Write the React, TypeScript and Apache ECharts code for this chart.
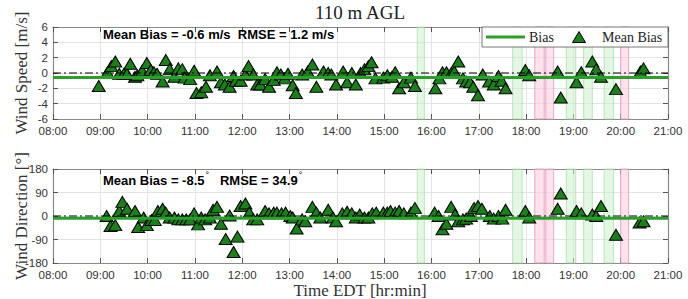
import React, { useEffect, useRef } from "react";
import * as echarts from "echarts";

const hourTicks = ["08:00", "09:00", "10:00", "11:00", "12:00", "13:00", "14:00", "15:00", "16:00", "17:00", "18:00", "19:00", "20:00", "21:00"];

const speedTimes = [
  "08:58", "09:09", "09:14", "09:19", "09:24", "09:30", "09:34", "09:38", "09:44", "09:47",
  "09:53", "09:59", "10:04", "10:08", "10:12", "10:19", "10:23", "10:28", "10:34", "10:39",
  "10:44", "10:47", "10:54", "10:59", "11:02", "11:08", "11:14", "11:19", "11:28", "11:33",
  "11:38", "11:44", "11:49", "11:52", "11:58", "12:04", "12:08", "12:14", "12:19", "12:23",
  "12:29", "12:34", "12:40", "12:44", "12:49", "12:54", "12:58", "13:04", "13:08", "13:16",
  "13:23", "13:29", "13:34", "13:43", "13:49", "13:53", "13:59", "14:08", "14:13", "14:19",
  "14:24", "14:30", "14:35", "14:40", "14:44", "14:49", "14:59", "15:04", "15:10", "15:14",
  "15:19", "15:25", "15:34", "15:39", "16:05", "16:10", "16:14", "16:19", "16:25", "16:29",
  "16:34", "16:40", "16:44", "16:49", "16:53", "16:59", "17:05", "17:13", "17:19", "17:25",
  "17:29", "17:34", "17:59", "18:04", "18:40", "18:44", "19:04", "19:10", "19:24", "19:29",
  "19:35", "19:54", "20:25", "20:29"
];
const speedBias = [
  -1.7, 0.1, 0.9, 1.5, -0.1, -0.1, -0.1, 1.2, -0.5, -0.3,
  0.3, 1.3, 0.4, 0.1, -0.1, -1.1, 1.7, 0.5, -0.5, 0.6,
  0.5, -0.6, -0.8, 0.3, -2.6, -2.5, -1.8, -0.3, 0.2, -1.2,
  -1.5, -1.8, -0.4, -1.0, -1.0, -0.2, 0.9, -0.2, -1.5, -1.5,
  -0.8, -1.8, -0.9, 0.1, -0.2, -0.7, -0.1, -1.6, -2.6, -0.2,
  0.2, 1.1, -1.8, 0.2, 0.0, -0.2, -1.5, 0.2, -1.2, 0.0,
  -1.5, 0.0, 0.5, 0.9, 1.4, -0.7, -0.6, -0.3, -0.5, 0.1,
  -2.0, -1.2, -0.6, -1.7, -2.0, -0.7, 0.1, 0.1, 0.0, 0.2,
  1.5, -0.7, -1.1, -1.2, -1.8, -2.9, -0.2, -1.1, -1.5, -0.4,
  -1.0, -2.0, 0.4, -0.3, 0.2, -3.2, -1.2, 0.1, 1.5, 0.5,
  -0.5, -2.1, 0.2, 0.6
];

const dirTimes = [
  "09:08", "09:13", "09:19", "09:24", "09:28", "09:34", "09:44", "09:48", "09:55", "09:59",
  "10:05", "10:09", "10:13", "10:19", "10:23", "10:28", "10:34", "10:39", "10:44", "10:49",
  "10:54", "10:59", "11:04", "11:08", "11:13", "11:19", "11:23", "11:28", "11:33", "11:39",
  "11:44", "11:49", "11:54", "11:58", "12:04", "12:09", "12:14", "12:19", "12:29", "12:34",
  "12:40", "12:44", "12:50", "12:55", "13:01", "13:04", "13:09", "13:16", "13:20", "13:29",
  "13:34", "13:39", "13:49", "13:55", "13:59", "14:07", "14:13", "14:19", "14:24", "14:29",
  "14:35", "14:40", "14:45", "14:50", "14:59", "15:04", "15:08", "15:14", "15:19", "15:25",
  "15:34", "15:39", "16:04", "16:09", "16:14", "16:19", "16:25", "16:30", "16:34", "16:40",
  "16:44", "16:50", "16:54", "16:59", "17:04", "17:14", "17:19", "17:25", "17:30", "17:34",
  "17:59", "18:04", "18:40", "18:44", "19:04", "19:10", "19:24", "19:29", "19:35", "19:54",
  "20:24", "20:29"
];
const dirBias = [
  0, -38, -35, 19, 54, 28, 19, -42, -6, -35,
  -15, -15, 19, 28, 13, -6, -6, -13, -13, -13,
  -13, 10, -32, -6, -13, -6, 24, 35, -30, -88,
  2, -138, -79, 38, 48, 13, -13, -13, 19, 10,
  13, 13, 10, 13, 0, -6, -48, -13, -20, 35,
  13, -6, 24, -6, -20, 10, 16, 10, -6, 6,
  -6, -6, 10, 13, 13, 13, 19, 13, 19, 10,
  13, 31, 13, 0, -51, -30, 35, 6, -20, -13,
  -10, 0, 31, 38, 28, 0, -10, 0, -10, 24,
  19, -6, 28, 86, 19, 10, 6, 0, 38, -72,
  -25, -20
];

const speedMeanBias = -0.6;
const speedRmse = 1.2;
const dirMeanBias = -8.5;
const dirRmse = 34.9;

const legendLabels = ["Bias", "Mean Bias"];

const greenBands = [["15:42", "15:51"], ["17:43", "17:55"], ["18:51", "19:03"], ["19:13", "19:24"], ["19:39", "19:51"]];
const pinkBands = [["18:11", "18:23"], ["18:25", "18:35"], ["20:00", "20:10"]];

const toH = (s: string) => {
  const [h, m] = s.split(":").map(Number);
  return h + m / 60;
};

const SERIF = "'Liberation Serif', 'DejaVu Serif', serif";
const SANS = "'Liberation Sans', Arial, sans-serif";
const AXIS_COLOR = "#8a8a8a";
const TRI_FILL = "#1a801a";
const BIAS_GREEN = "#2aa02a";

function bandData() {
  const g = greenBands.map(([a, b]) => [
    { xAxis: toH(a), itemStyle: { color: "rgba(205,240,205,0.55)", borderColor: "rgba(150,215,150,0.6)", borderWidth: 1 } },
    { xAxis: toH(b) },
  ]);
  const p = pinkBands.map(([a, b]) => [
    { xAxis: toH(a), itemStyle: { color: "rgba(252,205,222,0.6)", borderColor: "rgba(225,150,190,0.8)", borderWidth: 1 } },
    { xAxis: toH(b) },
  ]);
  return [...g, ...p];
}

function xAxes(gridIndex: number) {
  const common = {
    type: "value",
    gridIndex,
    min: 8,
    max: 21,
    interval: 1,
    axisLine: { show: true, onZero: false, lineStyle: { color: AXIS_COLOR, width: 1.2 } },
    axisTick: { show: true, inside: true, length: 5, lineStyle: { color: "#555" } },
  };
  return [
    {
      ...common,
      position: "bottom",
      axisLabel: {
        show: true,
        margin: 6,
        color: "#333",
        fontFamily: SANS,
        fontSize: 11.5,
        formatter: (_v: number, i: number) => hourTicks[i] ?? "",
      },
      splitLine: { show: true, lineStyle: { color: "#e4e4e4", width: 1 } },
    },
    {
      ...common,
      position: "top",
      axisLabel: { show: false },
      splitLine: { show: false },
    },
  ];
}

function yAxes(gridIndex: number, min: number, max: number, interval: number) {
  const common = {
    type: "value",
    gridIndex,
    min,
    max,
    interval,
    axisLine: { show: true, onZero: false, lineStyle: { color: AXIS_COLOR, width: 1.2 } },
    axisTick: { show: true, inside: true, length: 5, lineStyle: { color: "#555" } },
  };
  return [
    {
      ...common,
      position: "left",
      axisLabel: { show: true, margin: 5, color: "#333", fontFamily: SANS, fontSize: 11.5 },
      splitLine: { show: true, lineStyle: { color: "#e4e4e4", width: 1 } },
    },
    {
      ...common,
      position: "right",
      axisLabel: { show: false },
      splitLine: { show: false },
    },
  ];
}

function panelSeries(idx: number, times: string[], values: number[], meanBias: number) {
  const xi = idx * 2;
  const yi = idx * 2;
  return [
    {
      type: "line",
      name: "bands" + idx,
      xAxisIndex: xi,
      yAxisIndex: yi,
      data: [],
      silent: true,
      z: 1,
      markArea: { silent: true, data: bandData() },
    },
    {
      type: "line",
      name: "zero" + idx,
      xAxisIndex: xi,
      yAxisIndex: yi,
      data: [[8, 0], [21, 0]],
      symbol: "none",
      lineStyle: { color: "#000", width: 1.2, type: [8, 3, 2, 3] },
      z: 4,
    },
    {
      type: "scatter",
      name: "Mean Bias " + idx,
      xAxisIndex: xi,
      yAxisIndex: yi,
      data: times.map((t, i) => [toH(t), values[i]]),
      symbol: "triangle",
      symbolSize: [13, 11],
      itemStyle: { color: TRI_FILL, borderColor: "#000", borderWidth: 1, opacity: 1 },
      z: 3,
    },
    {
      type: "line",
      name: "Bias " + idx,
      xAxisIndex: xi,
      yAxisIndex: yi,
      data: [[8, meanBias], [21, meanBias]],
      symbol: "none",
      showSymbol: false,
      lineStyle: { color: BIAS_GREEN, width: 3 },
      itemStyle: { color: BIAS_GREEN },
      z: 5,
    },
  ];
}

export default function App() {
  const ref = useRef<HTMLDivElement>(null);

  useEffect(() => {
    if (!ref.current) return;
    const chart = echarts.init(ref.current, null, { renderer: "svg" });
    const option = {
      animation: false,
      backgroundColor: "#fff",
      grid: [
        { left: 53, right: 20, top: 27, height: 92, containLabel: false },
        { left: 53, right: 20, top: 169, height: 94, containLabel: false },
      ],
      xAxis: [...xAxes(0), ...xAxes(1)],
      yAxis: [...yAxes(0, -6, 6, 2), ...yAxes(1, -180, 180, 90)],
      series: [
        ...panelSeries(0, speedTimes, speedBias, speedMeanBias),
        ...panelSeries(1, dirTimes, dirBias, dirMeanBias),
      ],
      graphic: [
        {
          type: "text",
          x: 360,
          y: 12,
          style: { text: "110 m AGL", fontFamily: SERIF, fontSize: 19, fill: "#222", textAlign: "center", textVerticalAlign: "middle" },
        },
        {
          type: "text",
          x: 21,
          y: 73,
          rotation: Math.PI / 2,
          style: { text: "Wind Speed [m/s]", fontFamily: SERIF, fontSize: 17, fill: "#333", textAlign: "center", textVerticalAlign: "middle" },
        },
        {
          type: "text",
          x: 21,
          y: 216,
          rotation: Math.PI / 2,
          style: { text: "Wind Direction [°]", fontFamily: SERIF, fontSize: 17, fill: "#333", textAlign: "center", textVerticalAlign: "middle" },
        },
        {
          type: "text",
          x: 360,
          y: 290,
          style: { text: "Time EDT [hr:min]", fontFamily: SERIF, fontSize: 17, fill: "#333", textAlign: "center", textVerticalAlign: "middle" },
        },
        // Legend box
        {
          type: "rect",
          z: 20,
          shape: { x: 482, y: 27, width: 186, height: 20 },
          style: { fill: "#fff", stroke: "#555", lineWidth: 0.8 },
        },
        {
          type: "line",
          z: 21,
          shape: { x1: 486, y1: 37, x2: 525, y2: 37 },
          style: { stroke: BIAS_GREEN, lineWidth: 3 },
        },
        {
          type: "text",
          z: 21,
          x: 529,
          y: 37,
          style: { text: legendLabels[0], fontFamily: SERIF, fontSize: 14, fill: "#222", textAlign: "left", textVerticalAlign: "middle" },
        },
        {
          type: "polygon",
          z: 21,
          shape: { points: [[572.5, 42.5], [585.5, 42.5], [579, 31.5]] },
          style: { fill: TRI_FILL, stroke: "#000", lineWidth: 1 },
        },
        {
          type: "text",
          z: 21,
          x: 602,
          y: 37,
          style: { text: legendLabels[1], fontFamily: SERIF, fontSize: 14, fill: "#222", textAlign: "left", textVerticalAlign: "middle" },
        },
        {
          type: "text",
          x: 103,
          y: 34,
          z: 10,
          style: {
            text: `Mean Bias = ${speedMeanBias.toFixed(1)} m/s  RMSE = ${speedRmse.toFixed(1)} m/s`,
            fontFamily: SANS,
            fontWeight: "bold",
            fontSize: 13,
            fill: "#000",
            textAlign: "left",
            textVerticalAlign: "middle",
          },
        },
        {
          type: "text",
          x: 103,
          y: 180,
          z: 10,
          style: {
            text: `{a|Mean Bias = ${dirMeanBias.toFixed(1)}}{s|°}{a|   RMSE = ${dirRmse.toFixed(1)}}{s|°}`,
            textAlign: "left",
            textVerticalAlign: "middle",
            rich: {
              a: { fontFamily: SANS, fontWeight: "bold", fontSize: 13, fill: "#000", color: "#000" },
              s: { fontFamily: SANS, fontSize: 9, color: "#000", fill: "#000", padding: [0, 0, 10, 1] },
            },
          },
        },
      ],
    };
    chart.setOption(option as any);
    return () => chart.dispose();
  }, []);

  return <div ref={ref} style={{ position: "absolute", left: 0, top: 0, width: 688, height: 299 }} />;
}
